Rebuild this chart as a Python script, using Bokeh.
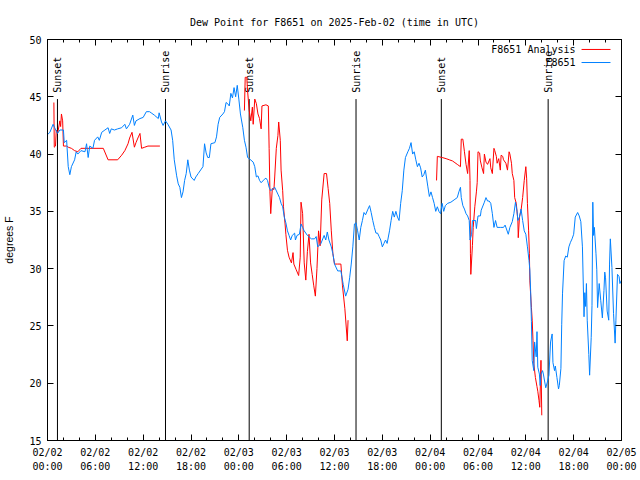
import math
from bokeh.plotting import figure
from bokeh.models import Range1d, FixedTicker, LinearAxis, Label, CustomJSTickFormatter
from bokeh.core.properties import value
from bokeh.embed import file_html
from bokeh.resources import INLINE

NAN = float("nan")

# ---- data (hours since 2025-02-02 00:00 UTC) ----
obs_hours = [0.0, 0.3, 0.7, 0.9, 1.25, 1.55, 2.0, 2.1, 2.4, 2.6, 2.8, 3.0, 3.4, 3.6, 3.8, 4.2, 4.7, 4.9, 5.1, 5.3,
             5.7, 5.9, 6.3, 6.5, 6.8, 7.2, 7.6, 7.8, 8.0, 8.4, 8.8, 9.3, 9.7, 9.9, 10.3, 10.7, 10.9, 11.1, 11.6, 12.0,
             12.4, 12.8, 13.0, 13.4, 13.9, 14.0, 14.3, 14.5, 14.8, 15.1, 15.5, 15.7, 15.9, 16.2, 16.4, 16.6, 16.8,
             17.0, 17.2, 17.4, 17.6, 17.8, 18.0, 18.4, 18.6, 18.9, 19.5, 19.7, 19.9, 20.1, 20.3, 20.5, 21.0, 21.2,
             21.4, 21.6, 22.0, 22.2, 22.4, 22.6, 22.8, 23.0, 23.2, 23.4, 23.6, 23.8, 24.0, 24.2, 24.5, 24.7, 24.9,
             25.1, 25.3, 25.8, 26.0, 26.2, 26.4, 26.6, 26.8, 27.2, 27.4, 27.6, 27.8, 28.0, 28.5, 28.9, 29.1, 29.3,
             29.5, 29.7, 29.9, 30.1, 30.3, 30.5, 30.7, 31.0, 31.1, 31.3, 31.6, 31.8, 32.0, 32.2, 32.6, 33.1, 33.5,
             33.7, 33.9, 34.3, 34.7, 34.9, 35.1, 35.3, 35.6, 35.8, 36.0, 36.4, 36.8, 37.1, 37.4, 37.7, 37.9, 38.1,
             38.3, 38.5, 38.7, 38.9, 39.1, 39.3, 39.5, 39.7, 39.9, 40.2, 40.4, 40.6, 40.8, 41.0, 41.2, 41.4, 41.6,
             41.8, 42.0, 42.2, 42.4, 42.6, 42.9, 43.1, 43.3, 43.5, 43.7, 43.9, 44.1, 44.3, 44.5, 44.7, 44.9, 45.2,
             45.4, 45.6, 45.8, 46.0, 46.2, 46.4, 46.6, 46.8, 47.0, 47.2, 47.4, 47.7, 47.9, 48.1, 48.3, 48.5, 48.7,
             48.9, 49.1, 49.3, 49.5, 49.7, 49.9, 50.2, 50.6, 51.0, 51.4, 51.6, 51.8, 51.9, 52.1, 52.3, 52.5, 52.7,
             52.9, 53.0, 53.2, 53.3, 53.5, 53.7, 53.8, 54.0, 54.3, 54.4, 54.8, 55.0, 55.2, 55.4, 55.6, 55.8, 56.0,
             56.2, 56.4, 56.8, 57.2, 57.4, 57.8, 58.0, 58.3, 58.5, 58.7, 58.9, 59.0, 59.2, 59.4, 59.6, 59.8, 60.0,
             60.2, 60.4, 60.5, 60.6, 60.7, 60.8, 61.0, 61.1, 61.3, 61.4, 61.5, 61.7, 61.8, 61.9, 62.1, 62.2, 62.5,
             62.7, 62.9, 63.1, 63.3, 63.4, 63.6, 63.7, 63.9, 64.1, 64.2, 64.4, 64.5, 64.6, 64.8, 65.0, 65.2, 65.4,
             65.6, 65.8, 66.0, 66.2, 66.5, 66.7, 66.9, 67.1, 67.3, 67.4, 67.5, 67.6, 67.7, 67.9, 68.0, 68.2, 68.3,
             68.4, 68.5, 68.6, 68.8, 68.9, 69.0, 69.2, 69.4, 69.6, 69.8, 69.9, 70.0, 70.2, 70.4, 70.5, 70.6, 70.8,
             71.0, 71.2, 71.3, 71.5, 71.7, 71.8, 72.0]
obs_dewpoint = [41.7, 41.9, 42.6, 42.3, 41.8, 42.1, 42.1, 41.0, 41.2, 38.9, 38.2, 38.9, 39.5, 40.2, 40.0, 40.3, 40.2,
                40.9, 39.7, 40.7, 40.5, 41.2, 41.5, 41.2, 41.9, 42.1, 42.3, 41.8, 42.2, 42.1, 42.2, 42.3, 42.6, 42.2,
                42.6, 43.4, 42.5, 42.9, 43.1, 43.2, 43.7, 43.7, 43.6, 43.4, 43.1, 43.6, 42.8, 42.5, 42.9, 42.6, 42.1,
                41.2, 39.5, 38.1, 37.4, 37.1, 36.2, 36.7, 37.7, 38.3, 39.5, 38.6, 38.0, 37.7, 38.0, 38.3, 38.9, 40.9,
                40.1, 39.7, 39.7, 40.9, 41.0, 41.5, 42.6, 43.2, 43.5, 43.7, 44.5, 44.4, 44.2, 45.3, 44.9, 45.8, 45.0,
                46.0, 44.8, 43.5, 42.3, 41.2, 40.6, 39.7, 39.6, 39.3, 38.9, 38.0, 38.1, 37.7, 37.5, 37.8, 37.9, 37.7,
                37.1, 36.8, 37.1, 36.5, 36.2, 35.7, 35.4, 34.5, 34.0, 33.3, 32.9, 32.5, 32.9, 33.1, 32.5, 32.9, 33.0,
                33.9, 33.6, 33.3, 32.9, 32.6, 32.6, 32.8, 31.9, 32.2, 32.9, 32.5, 33.2, 32.5, 31.9, 31.3, 30.4, 29.8,
                29.8, 28.6, 27.6, 28.2, 29.2, 30.4, 31.9, 33.9, 34.0, 33.3, 32.5, 33.6, 34.2, 34.9, 34.7, 35.2, 35.5,
                34.9, 34.2, 33.6, 33.1, 33.1, 32.8, 32.5, 31.9, 32.2, 32.5, 32.2, 33.3, 34.2, 35.0, 34.5, 35.0, 34.5,
                34.2, 35.7, 36.8, 38.6, 39.7, 40.2, 40.5, 41.0, 40.0, 40.2, 39.5, 38.9, 39.2, 38.8, 38.0, 38.2, 38.6,
                37.2, 36.3, 36.7, 36.2, 35.7, 35.0, 35.4, 35.0, 34.8, 35.7, 35.0, 35.5, 35.7, 35.8, 36.0, 36.2, 36.7,
                37.1, 36.2, 35.5, 35.2, 34.8, 34.6, 34.2, 32.5, 33.0, 34.2, 34.2, 34.2, 33.5, 34.6, 34.6, 35.1, 35.8,
                36.2, 35.9, 35.9, 35.7, 34.8, 33.6, 34.2, 33.6, 33.6, 33.6, 33.8, 33.0, 33.6, 34.1, 34.8, 35.8, 35.0,
                34.2, 34.5, 35.2, 34.2, 33.3, 33.0, 31.9, 30.7, 29.9, 28.1, 25.4, 22.0, 21.1, 23.6, 22.3, 24.5, 21.4,
                20.8, 19.8, 20.8, 21.1, 20.8, 19.6, 20.1, 20.7, 23.6, 24.3, 21.8, 21.1, 21.5, 20.5, 19.5, 19.8, 21.3,
                25.1, 27.8, 30.7, 31.1, 31.0, 31.9, 32.3, 32.6, 33.0, 34.5, 34.9, 34.6, 34.1, 31.9, 25.8, 27.9, 26.7,
                28.7, 25.5, 22.5, 20.7, 24.0, 26.8, 35.8, 32.9, 33.6, 31.3, 29.9, 26.6, 28.7, 27.2, 25.7, 28.1, 29.7,
                29.2, 26.3, 25.5, 30.4, 32.6, 30.1, 26.1, 23.5, 25.5, 29.5, 29.3, 28.7, 29.0]

analysis_hours = [0.8, 0.85, 1.0, 1.1, 1.3, 1.55, 1.65, 1.75, 1.9, 2.0, 2.4, 2.6, 3.0, 3.4, 3.8, 4.2, 7.0, 7.6, 8.8,
                  9.3, 9.7, 10.1, 10.3, 10.6, 10.9, 11.1, 11.4, 11.6, 11.8, 12.2, 12.6, 14.1, NAN,
                  24.7, 24.8, 25.0, 25.1, 25.3, 25.5, 25.7, 25.8, 26.0, 26.2, 26.4, 26.6, 26.8, 26.9, 27.4, 27.7,
                  27.8, 27.9, 28.0, 28.2, 28.4, 28.5, 28.7, 28.9, 29.0, 29.2, 29.3, 29.5, 29.6, 29.8, 29.9, 30.1,
                  30.3, 30.6, 30.8, 30.9, 31.2, 31.5, 31.7, 31.8, 32.0, 32.2, 32.4, 32.6, 32.8, 33.0, 33.2, 33.4,
                  33.6, 33.8, 34.0, 34.2, 34.4, 34.7, 35.0, 35.2, 35.4, 35.6, 35.8, 36.0, 36.4, 36.8, 37.0, 37.3,
                  37.6, 37.7, NAN,
                  48.8, 48.9, 49.5, 50.0, 50.4, 50.8, 51.0, 51.4, 51.8, 51.9, 52.1, 52.3, 52.5, 52.7, 52.9, 53.0,
                  53.05, 53.1, 53.3, 53.4, 53.6, 53.8, 53.9, 54.0, 54.2, 54.3, 54.5, 54.7, 54.8, 55.0, 55.2, 55.5,
                  55.6, 55.8, 56.0, 56.1, 56.3, 56.4, 56.6, 56.8, 56.9, 57.1, 57.2, 57.5, 57.7, 57.9, 58.0, 58.2,
                  58.3, 58.5, 58.6, 58.8, 59.0, 59.05, 59.2, 59.4, 59.6, 59.8, 60.0, 60.1, 60.2, 60.35, 60.45, 60.5,
                  60.7, 60.8, 60.9, 61.0, 61.2, 61.4, 61.5, 61.65, 61.75, 61.9, 62.0]
analysis_dewpoint = [44.5, 40.6, 40.7, 42.1, 41.9, 42.9, 42.4, 43.5, 42.9, 40.7, 40.7, 40.6, 40.5, 40.3, 40.2, 40.5,
                     40.5, 39.5, 39.5, 39.9, 40.3, 40.9, 41.4, 41.9, 40.6, 41.0, 41.5, 41.8, 40.5, 40.6, 40.7, 40.7,
                     NAN,
                     43.8, 46.7, 46.7, 45.5, 43.8, 42.9, 44.1, 42.6, 44.8, 44.4, 43.5, 43.1, 42.2, 44.2, 44.3, 44.2,
                     40.5, 36.7, 34.8, 37.0, 36.9, 38.0, 40.5, 41.6, 42.8, 41.2, 38.6, 36.8, 35.4, 33.9, 33.0, 31.6,
                     31.0, 30.5, 31.4, 30.4, 29.9, 29.4, 31.0, 35.8, 34.8, 30.5, 29.0, 31.5, 33.0, 30.5, 29.5, 28.5,
                     27.6, 30.0, 33.3, 32.0, 36.0, 38.3, 38.3, 37.0, 35.7, 33.3, 31.3, 30.4, 30.4, 30.4, 28.5, 26.5,
                     23.7, 25.5, NAN,
                     37.7, 39.8, 39.7, 39.6, 39.5, 39.4, 39.3, 39.1, 38.9, 41.3, 41.3, 40.2, 39.1, 38.3, 40.3, 37.7,
                     31.3, 29.5, 32.0, 33.6, 35.4, 36.7, 37.5, 40.2, 40.1, 39.4, 38.8, 38.3, 40.0, 39.3, 39.1, 39.6,
                     38.8, 38.3, 40.5, 40.3, 39.8, 39.2, 39.6, 38.6, 39.9, 39.8, 39.5, 39.2, 38.6, 40.2, 40.0, 39.2,
                     38.3, 37.7, 36.2, 35.7, 34.2, 32.7, 34.5, 35.1, 36.2, 37.7, 38.9, 37.9, 35.7, 33.3, 31.3, 29.0,
                     26.6, 25.5, 23.7, 21.7, 20.5, 19.7, 19.3, 18.5, 17.9, 22.0, 17.2]

sun_hours = [1.25, 14.8, 25.3, 38.7, 49.4, 62.8]
sun_labels = ["Sunset", "Sunrise", "Sunset", "Sunrise", "Sunset", "Sunrise"]

x_ticks = [0, 6, 12, 18, 24, 30, 36, 42, 48, 54, 60, 66, 72]
x_tick_labels = ["02/02\n00:00", "02/02\n06:00", "02/02\n12:00", "02/02\n18:00", "02/03\n00:00",
                 "02/03\n06:00", "02/03\n12:00", "02/03\n18:00", "02/04\n00:00", "02/04\n06:00",
                 "02/04\n12:00", "02/04\n18:00", "02/05\n00:00"]
x_minor_ticks = list(range(0, 73, 2))
y_ticks = [15, 20, 25, 30, 35, 40, 45, 50]

series_names = ["F8651 Analysis", "F8651"]
series_colors = ["#ff0000", "#0080ff"]

MONO = "DejaVu Sans Mono"
FS = "10px"

p = figure(width=640, height=480, x_range=Range1d(0, 72), y_range=Range1d(15, 50),
           output_backend="svg", toolbar_location=None,
           min_border_left=46, min_border_right=19, min_border_top=39, min_border_bottom=40,
           title="Dew Point for F8651 on 2025-Feb-02 (time in UTC)")
p.title.align = "center"
p.title.text_font = MONO
p.title.text_font_size = FS
p.title.text_font_style = "normal"
p.title.text_color = "black"
p.title.standoff = 23
p.grid.visible = False
p.outline_line_color = "black"
p.outline_line_alpha = 1.0
p.background_fill_color = "white"
p.border_fill_color = "white"

def style_axis(ax):
    ax.axis_line_color = "black"
    ax.major_tick_line_color = "black"
    ax.minor_tick_line_color = "black"
    ax.major_tick_in = 6
    ax.major_tick_out = 0
    ax.minor_tick_in = 3
    ax.minor_tick_out = 0
    ax.major_label_text_font = MONO
    ax.major_label_text_font_size = FS
    ax.major_label_text_color = "black"

xt = FixedTicker(ticks=x_ticks, minor_ticks=x_minor_ticks)
yt = FixedTicker(ticks=y_ticks, minor_ticks=[])

xa = p.xaxis[0]
xa.ticker = xt
xa.major_label_overrides = {t: l for t, l in zip(x_ticks, x_tick_labels)}
style_axis(xa)
xa.major_label_standoff = 6
xa.major_label_text_line_height = 1.3

ya = p.yaxis[0]
ya.ticker = yt
style_axis(ya)
ya.major_label_standoff = 6
ya.axis_label = "degrees F"
ya.axis_label_text_font = "Liberation Sans"
ya.axis_label_text_font_size = "10.5px"
ya.axis_label_text_font_style = "normal"
ya.axis_label_text_color = "black"
ya.axis_label_standoff = 11

blank = CustomJSTickFormatter(code="return '';")
top = LinearAxis(ticker=FixedTicker(ticks=x_ticks, minor_ticks=x_minor_ticks), formatter=blank)
style_axis(top)
p.add_layout(top, "above")
right = LinearAxis(ticker=FixedTicker(ticks=y_ticks, minor_ticks=[]), formatter=blank)
style_axis(right)
p.add_layout(right, "right")

# sunrise / sunset markers
SUN_LINE_TOP = 44.8
SUN_TEXT_Y = 45.35
p.segment(x0=sun_hours, y0=[15] * len(sun_hours), x1=sun_hours, y1=[SUN_LINE_TOP] * len(sun_hours),
          line_color="black", line_width=1)
p.text(x=sun_hours, y=[SUN_TEXT_Y] * len(sun_hours), text=sun_labels, angle=math.pi / 2,
       text_align="left", text_baseline="middle", text_font=value(MONO), text_font_size=value(FS),
       text_color="black")

# series
p.line(analysis_hours, analysis_dewpoint, line_color=series_colors[0], line_width=1)
p.line(obs_hours, obs_dewpoint, line_color=series_colors[1], line_width=1)

# legend (gnuplot style: text left, sample right)
LEG_TEXT_X = 66.24
LEG_X0, LEG_X1 = 66.99, 70.62
LEG_Y = [49.13, 47.99]
for name, col, ly in zip(series_names, series_colors, LEG_Y):
    p.add_layout(Label(x=LEG_TEXT_X, y=ly, text=name, text_align="right", text_baseline="middle",
                       text_font=MONO, text_font_size=FS, text_color="black"))
    p.line([LEG_X0, LEG_X1], [ly, ly], line_color=col, line_width=1)

open("out.html", "w").write(file_html(p, INLINE))
